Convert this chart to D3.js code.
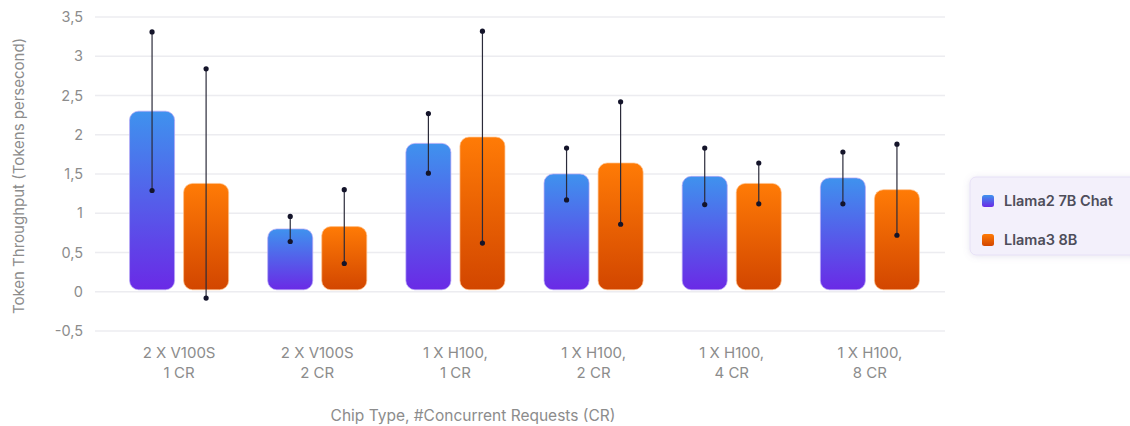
<!DOCTYPE html>
<html>
<head>
<meta charset="utf-8">
<script src="https://cdn.jsdelivr.net/npm/d3@7/dist/d3.min.js"></script>
<style>
  html, body { margin: 0; padding: 0; background: #ffffff; }
  svg { display: block; font-family: Inter, "Noto Sans", sans-serif; }
</style>
</head>
<body>
<svg id="chart" width="1130" height="426"></svg>
<script>
// Chip configurations (two-line axis labels)
const categories = [
  ["2 X V100S", "1 CR"],
  ["2 X V100S", "2 CR"],
  ["1 X H100,", "1 CR"],
  ["1 X H100,", "2 CR"],
  ["1 X H100,", "4 CR"],
  ["1 X H100,", "8 CR"]
];
const seriesNames = ["Llama2 7B Chat", "Llama3 8B"];

// Mean token throughput (tokens per second)
const llama2Values = [2.30, 0.80, 1.89, 1.50, 1.47, 1.45];
const llama3Values = [1.38, 0.83, 1.97, 1.64, 1.38, 1.30];

// Error bar half-widths
const llama2Errors = [1.01, 0.16, 0.38, 0.33, 0.36, 0.33];
const llama3Errors = [1.46, 0.47, 1.35, 0.78, 0.26, 0.58];

const yTicks = [-0.5, 0, 0.5, 1, 1.5, 2, 2.5, 3, 3.5];

const svg = d3.select("#chart");
const defs = svg.append("defs");

const palette = {
  "Llama2 7B Chat": { top: "#3f92ee", bottom: "#6a2ae6", edge: "#b7a7f6" },
  "Llama3 8B":      { top: "#ff7b06", bottom: "#d24600", edge: "#ffc08a" }
};

seriesNames.forEach((name, i) => {
  const g = defs.append("linearGradient")
    .attr("id", "grad" + i)
    .attr("x1", 0).attr("y1", 0).attr("x2", 0).attr("y2", 1);
  g.append("stop").attr("offset", "0%").attr("stop-color", palette[name].top);
  g.append("stop").attr("offset", "100%").attr("stop-color", palette[name].bottom);
});

const shadow = defs.append("filter").attr("id", "legendShadow")
  .attr("x", "-20%").attr("y", "-30%").attr("width", "140%").attr("height", "160%");
shadow.append("feDropShadow").attr("dx", 0).attr("dy", 1).attr("stdDeviation", 3)
  .attr("flood-color", "#7a6aa8").attr("flood-opacity", 0.18);

// Scales
const y = d3.scaleLinear().domain([-0.5, 3.5]).range([331, 17]);
const x0 = d3.scaleBand()
  .domain(d3.range(categories.length))
  .range([110, 939])
  .paddingInner(0.283)
  .paddingOuter(0.1415);
const x1 = d3.scaleBand()
  .domain(seriesNames)
  .range([0, x0.bandwidth()])
  .paddingInner(0.167);

const locale = d3.formatLocale({ decimal: ",", thousands: ".", grouping: [3], currency: ["", ""], minus: "-" });
const fmt = locale.format("~g");

// Gridlines
svg.append("g")
  .selectAll("line")
  .data(yTicks)
  .join("line")
  .attr("x1", 95).attr("x2", 945)
  .attr("y1", d => y(d)).attr("y2", d => y(d))
  .attr("stroke", "#ececf0")
  .attr("stroke-width", 1.5);

// Y axis labels
const yAxis = d3.axisLeft(y).tickValues(yTicks).tickFormat(fmt).tickSize(0).tickPadding(0);
const yAxisG = svg.append("g").attr("transform", "translate(83,0)").call(yAxis);
yAxisG.select(".domain").remove();
yAxisG.selectAll("text")
  .attr("fill", "#8c8c8c")
  .style("font-size", "14.5px")
  .style("font-family", "Inter, 'Noto Sans', sans-serif");

// Bars
const rows = categories.map((c, i) => ({
  i,
  items: [
    { name: seriesNames[0], value: llama2Values[i], err: llama2Errors[i], gi: 0 },
    { name: seriesNames[1], value: llama3Values[i], err: llama3Errors[i], gi: 1 }
  ]
}));

const groups = svg.append("g")
  .selectAll("g")
  .data(rows)
  .join("g")
  .attr("transform", d => `translate(${x0(d.i)},0)`);

groups.selectAll("rect")
  .data(d => d.items)
  .join("rect")
  .attr("x", d => x1(d.name))
  .attr("width", x1.bandwidth())
  .attr("y", d => y(d.value))
  .attr("height", d => y(0) - 2 - y(d.value))
  .attr("rx", 9).attr("ry", 9)
  .attr("fill", d => `url(#grad${d.gi})`)
  .attr("stroke", d => palette[d.name].edge)
  .attr("stroke-opacity", 0.7)
  .attr("stroke-width", 1);

// Error bars
const errG = groups.selectAll("g.err")
  .data(d => d.items)
  .join("g")
  .attr("class", "err")
  .attr("transform", d => `translate(${x1(d.name) + x1.bandwidth() / 2},0)`);

errG.append("line")
  .attr("x1", 0).attr("x2", 0)
  .attr("y1", d => y(d.value + d.err))
  .attr("y2", d => y(d.value - d.err))
  .attr("stroke", "#2b2b3a")
  .attr("stroke-width", 1.2);

errG.selectAll("circle")
  .data(d => [d.value + d.err, d.value - d.err])
  .join("circle")
  .attr("cx", 0)
  .attr("cy", v => y(v))
  .attr("r", 2.6)
  .attr("fill", "#14142a");

// X axis labels
const xLabels = svg.append("g")
  .selectAll("text")
  .data(categories)
  .join("text")
  .attr("x", (d, i) => x0(i) + x0.bandwidth() / 2)
  .attr("y", 358)
  .attr("text-anchor", "middle")
  .attr("fill", "#8c8c8c")
  .style("font-size", "15px");
xLabels.selectAll("tspan")
  .data(d => d)
  .join("tspan")
  .attr("x", function () { return d3.select(this.parentNode).attr("x"); })
  .attr("dy", (d, j) => j === 0 ? 0 : 20)
  .text(d => d);

// Axis titles
svg.append("text")
  .attr("x", 473).attr("y", 421)
  .attr("text-anchor", "middle")
  .attr("fill", "#8c8c8c")
  .style("font-size", "15.5px")
  .text("Chip Type, #Concurrent Requests (CR)");

svg.append("text")
  .attr("transform", "translate(24,176) rotate(-90)")
  .attr("text-anchor", "middle")
  .attr("fill", "#8c8c8c")
  .style("font-size", "15px")
  .text("Token Throughput (Tokens persecond)");

// Legend
const legend = svg.append("g").attr("transform", "translate(970,177)");
legend.append("rect")
  .attr("width", 172).attr("height", 78)
  .attr("rx", 6).attr("ry", 6)
  .attr("fill", "#f3f0fb")
  .attr("stroke", "#e6e0f6")
  .attr("filter", "url(#legendShadow)");

const legendItems = legend.selectAll("g.item")
  .data(seriesNames)
  .join("g")
  .attr("class", "item")
  .attr("transform", (d, i) => `translate(12,${18 + i * 39})`);
legendItems.append("rect")
  .attr("width", 12).attr("height", 12)
  .attr("rx", 2.5).attr("ry", 2.5)
  .attr("fill", (d, i) => `url(#grad${i})`);
legendItems.append("text")
  .attr("x", 22).attr("y", 6)
  .attr("dy", "0.35em")
  .attr("fill", "#4d4d5a")
  .style("font-size", "14.5px")
  .style("font-weight", 600)
  .text(d => d);
</script>
</body>
</html>
